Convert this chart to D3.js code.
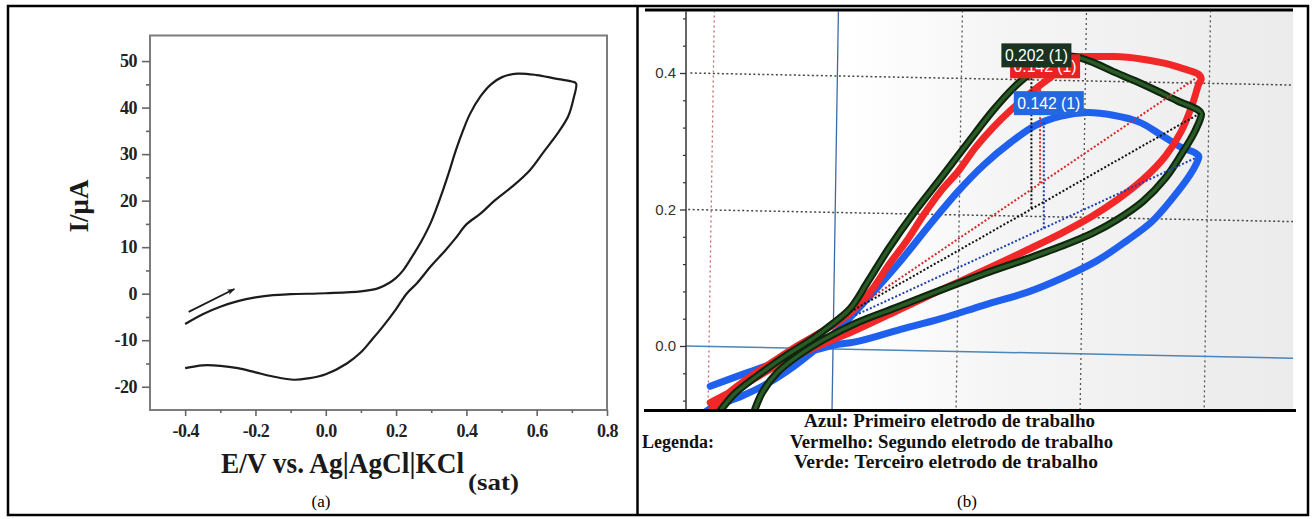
<!DOCTYPE html>
<html>
<head>
<meta charset="utf-8">
<script src="https://d3js.org/d3.v7.min.js"></script>
<style>
  body { margin: 0; background: #fff; }
  svg { display: block; }
</style>
</head>
<body>
<script>
// ---------- panel (a): single voltammogram ----------
var cvE = [-0.40, -0.35, -0.30, -0.25, -0.20, -0.15, -0.10, 0.00, 0.10, 0.15, 0.18, 0.20, 0.22, 0.25, 0.27, 0.30, 0.33, 0.35, 0.37, 0.39, 0.41, 0.44, 0.47, 0.50, 0.545, 0.60, 0.65, 0.70, 0.712,
           0.705, 0.69, 0.66, 0.62, 0.58, 0.53, 0.48, 0.44, 0.40, 0.37, 0.34, 0.30, 0.26, 0.23, 0.20, 0.16, 0.13, 0.10, 0.06, 0.00, -0.05, -0.09, -0.15, -0.20, -0.25, -0.30, -0.35, -0.40];
var cvI = [-6.5, -4.4, -2.8, -1.6, -0.8, -0.3, -0.1, 0.1, 0.5, 1.2, 2.3, 3.4, 5.0, 8.5, 11.0, 15.5, 21.5, 26.0, 30.8, 35.0, 38.6, 42.4, 45.0, 46.5, 47.3, 47.0, 46.3, 45.6, 45.2,
           42.0, 38.2, 34.5, 30.5, 26.5, 23.0, 20.0, 17.2, 14.9, 12.0, 9.3, 6.0, 2.3, 0.0, -3.3, -7.3, -10.0, -12.6, -15.0, -17.3, -18.2, -18.5, -17.8, -16.9, -16.0, -15.5, -15.4, -16.0];
var arrowE = [-0.39, -0.26];
var arrowI = [-3.9, 1.0];
var xTicksA = [-0.4, -0.2, 0.0, 0.2, 0.4, 0.6, 0.8];
var xMinorA = [-0.3, -0.1, 0.1, 0.3, 0.5, 0.7];
var yTicksA = [-20, -10, 0, 10, 20, 30, 40, 50];
var yMinorA = [-15, -5, 5, 15, 25, 35, 45];

// ---------- panel (b): three working electrodes ----------
var blueE = [-0.099, -0.069, -0.034, 0.000, 0.018, 0.052, 0.087, 0.122, 0.157, 0.184, 0.212, 0.236, 0.257, 0.274, 0.288, 0.294, 0.295,
             0.292, 0.281, 0.264, 0.247, 0.226, 0.205, 0.184, 0.163, 0.143, 0.122, 0.101, 0.080, 0.056, 0.035, 0.018, 0.004, -0.010, -0.031, -0.052, -0.073, -0.097, -0.104];
var blueI = [-0.059, -0.039, -0.017, 0.001, 0.006, 0.023, 0.040, 0.060, 0.079, 0.099, 0.124, 0.153, 0.182, 0.217, 0.251, 0.271, 0.278,
             0.283, 0.291, 0.310, 0.328, 0.338, 0.342, 0.337, 0.323, 0.298, 0.266, 0.227, 0.182, 0.128, 0.084, 0.050, 0.023, 0.001, -0.029, -0.054, -0.073, -0.090, -0.098];
var redE = [-0.099, -0.069, -0.041, -0.017, 0.018, 0.052, 0.087, 0.122, 0.157, 0.184, 0.209, 0.229, 0.250, 0.268, 0.281, 0.290, 0.295, 0.297,
            0.295, 0.283, 0.268, 0.247, 0.226, 0.205, 0.195, 0.186, 0.177, 0.167, 0.157, 0.143, 0.129, 0.115, 0.101, 0.087, 0.073, 0.059, 0.045, 0.032, 0.018, 0.004, -0.010, -0.028, -0.045, -0.066, -0.087, -0.100];
var redI = [-0.083, -0.054, -0.024, -0.004, 0.023, 0.052, 0.082, 0.111, 0.141, 0.165, 0.190, 0.214, 0.244, 0.278, 0.315, 0.355, 0.384, 0.391,
            0.398, 0.406, 0.414, 0.421, 0.424, 0.424, 0.423, 0.411, 0.396, 0.382, 0.367, 0.345, 0.320, 0.291, 0.256, 0.227, 0.192, 0.153, 0.119, 0.084, 0.055, 0.035, 0.020, 0.001, -0.019, -0.044, -0.073, -0.098];
var greenE = [-0.065, -0.057, -0.045, -0.028, -0.007, 0.018, 0.052, 0.087, 0.122, 0.157, 0.184, 0.209, 0.229, 0.250, 0.268, 0.281, 0.292, 0.297,
              0.295, 0.278, 0.261, 0.243, 0.226, 0.209, 0.195, 0.184, 0.170, 0.158, 0.146, 0.129, 0.108, 0.087, 0.066, 0.045, 0.028, 0.014, 0.000, -0.017, -0.038, -0.059, -0.080, -0.093];
var greenI = [-0.103, -0.068, -0.039, -0.014, 0.010, 0.033, 0.057, 0.082, 0.106, 0.128, 0.146, 0.165, 0.185, 0.212, 0.246, 0.281, 0.315, 0.340,
              0.345, 0.359, 0.374, 0.389, 0.402, 0.416, 0.424, 0.423, 0.414, 0.398, 0.379, 0.345, 0.296, 0.246, 0.197, 0.143, 0.094, 0.055, 0.033, 0.010, -0.014, -0.041, -0.071, -0.100];

// peak markers (blue, red, green) and their baselines
var peakE = [0.170, 0.167, 0.160];
var peakI = [0.328, 0.382, 0.398];
var peakText = ["0.142 (1)", "0.142 (1)", "0.202 (1)"];
var baseE0 = [0.018, 0.018, 0.014], baseI0 = [0.045, 0.055, 0.050];
var baseE1 = [0.293, 0.294, 0.296], baseI1 = [0.276, 0.394, 0.341];

var yTicksB = [0.0, 0.2, 0.4];
var yMinorB = [-0.08, -0.04, 0.04, 0.08, 0.12, 0.16, 0.24, 0.28, 0.32, 0.36, 0.44, 0.48];
var xGridB = [-0.1, 0.1, 0.2, 0.3];
var yGridB = [0.2, 0.4];
var legendLines = ["Azul: Primeiro eletrodo de trabalho", "Vermelho: Segundo eletrodo de trabalho", "Verde: Terceiro eletrodo de trabalho"];

var serif = "'Liberation Serif', 'Times New Roman', serif";
var sans = "'Liberation Sans', Arial, sans-serif";

var svg = d3.select("body").append("svg")
  .attr("width", 1315)
  .attr("height", 519);

// table frame
svg.append("rect")
  .attr("x", 8).attr("y", 6).attr("width", 1300).attr("height", 509)
  .attr("fill", "none").attr("stroke", "#000").attr("stroke-width", 2.5);
svg.append("line")
  .attr("x1", 637.5).attr("x2", 637.5).attr("y1", 6).attr("y2", 515)
  .attr("stroke", "#000").attr("stroke-width", 2.5);

// ================= panel (a) =================
var xA = d3.scaleLinear().domain([-0.5, 0.8]).range([150, 607]);
var yA = d3.scaleLinear().domain([-25, 55.5]).range([410, 35.5]);

var gA = svg.append("g");
gA.append("rect")
  .attr("x", 150).attr("y", 35.5).attr("width", 457).attr("height", 374.5)
  .attr("fill", "#fff").attr("stroke", "#7c7c7c").attr("stroke-width", 2);

function styleAxisA(g) {
  g.select(".domain").remove();
  g.selectAll(".tick line").attr("stroke", "#666").attr("stroke-width", 1.6);
  g.selectAll("text")
    .attr("font-family", serif).attr("font-size", 18).attr("font-weight", "bold")
    .attr("fill", "#222").attr("letter-spacing", -0.5);
}

gA.append("g").attr("transform", "translate(150,0)")
  .call(d3.axisLeft(yA).tickValues(yTicksA).tickSize(8).tickPadding(5).tickFormat(function (d) { return d; }))
  .call(styleAxisA);
gA.append("g").attr("transform", "translate(150,0)")
  .call(d3.axisLeft(yA).tickValues(yMinorA).tickSize(4).tickFormat(""))
  .call(styleAxisA);
gA.append("g").attr("transform", "translate(0,410)")
  .call(d3.axisBottom(xA).tickValues(xTicksA).tickSize(6).tickPadding(8).tickFormat(function (d) { return d.toFixed(1); }))
  .call(styleAxisA);
gA.append("g").attr("transform", "translate(0,410)")
  .call(d3.axisBottom(xA).tickValues(xMinorA).tickSize(3).tickFormat(""))
  .call(styleAxisA);

var lineA = d3.line()
  .x(function (d) { return xA(d[0]); })
  .y(function (d) { return yA(d[1]); })
  .curve(d3.curveCatmullRom.alpha(0.5));

gA.append("path")
  .datum(d3.zip(cvE, cvI))
  .attr("d", lineA)
  .attr("fill", "none").attr("stroke", "#1c1c1c").attr("stroke-width", 2.2)
  .attr("stroke-linejoin", "round");

// scan direction arrow
svg.append("defs").append("marker")
  .attr("id", "arrowA").attr("viewBox", "0 0 10 10").attr("refX", 9).attr("refY", 5)
  .attr("markerUnits", "userSpaceOnUse").attr("markerWidth", 12).attr("markerHeight", 8)
  .attr("orient", "auto")
  .append("path").attr("d", "M0,1.5 L10,5 L0,8.5 L2.5,5 z").attr("fill", "#1c1c1c");
gA.append("line")
  .attr("x1", xA(arrowE[0])).attr("y1", yA(arrowI[0]))
  .attr("x2", xA(arrowE[1])).attr("y2", yA(arrowI[1]))
  .attr("stroke", "#1c1c1c").attr("stroke-width", 1.8)
  .attr("marker-end", "url(#arrowA)");

// titles
gA.append("text")
  .attr("x", 221).attr("y", 473)
  .attr("font-family", serif).attr("font-size", 30).attr("font-weight", "bold").attr("fill", "#1a1a1a")
  .attr("textLength", 243).attr("lengthAdjust", "spacingAndGlyphs")
  .text("E/V vs. Ag|AgCl|KCl");
gA.append("text")
  .attr("x", 468).attr("y", 490)
  .attr("font-family", serif).attr("font-size", 24).attr("font-weight", "bold").attr("fill", "#1a1a1a")
  .attr("textLength", 51).attr("lengthAdjust", "spacingAndGlyphs")
  .text("(sat)");
gA.append("text")
  .attr("transform", "translate(88,206) rotate(-90)")
  .attr("text-anchor", "middle")
  .attr("font-family", serif).attr("font-size", 28).attr("font-weight", "bold").attr("fill", "#1a1a1a")
  .attr("textLength", 53).attr("lengthAdjust", "spacingAndGlyphs")
  .text("I/\u03bcA");
svg.append("text")
  .attr("x", 321).attr("y", 507).attr("text-anchor", "middle")
  .attr("font-family", serif).attr("font-size", 17)
  .text("(a)");

// ================= panel (b) =================
var xB = d3.scaleLinear().domain([0, 0.1]).range([833, 957]);
var yB = d3.scaleLinear().domain([0, 0.4]).range([346, 73]);
var photo = { x0: 644, x1: 1293, y0: 11.5, y1: 409.5 };

var defs = svg.select("defs");
var grad = defs.append("linearGradient").attr("id", "photoBg")
  .attr("x1", "0%").attr("x2", "100%").attr("y1", "0%").attr("y2", "0%");
[[0, "#ffffff"], [0.32, "#ffffff"], [0.55, "#f5f5f5"], [1, "#ebebeb"]].forEach(function (s) {
  grad.append("stop").attr("offset", s[0]).attr("stop-color", s[1]);
});
defs.append("clipPath").attr("id", "clipB")
  .append("rect").attr("x", photo.x0).attr("y", photo.y0)
  .attr("width", photo.x1 - photo.x0).attr("height", photo.y1 - photo.y0);

var gB = svg.append("g");
gB.append("rect")
  .attr("x", photo.x0).attr("y", photo.y0)
  .attr("width", photo.x1 - photo.x0).attr("height", photo.y1 - photo.y0)
  .attr("fill", "url(#photoBg)");

var clipG = gB.append("g").attr("clip-path", "url(#clipB)");

// the photographed grid is slightly tilted
var gridG = clipG.append("g")
  .attr("transform", "translate(686,346) matrix(1,0.02,-0.016,1,0,0) translate(-686,-346)");

gridG.selectAll(".hgrid").data(yGridB).enter().append("line")
  .attr("x1", 686).attr("x2", 1310)
  .attr("y1", function (d) { return yB(d); }).attr("y2", function (d) { return yB(d); })
  .attr("stroke", "#444").attr("stroke-width", 1.5).attr("stroke-dasharray", "2,2.5");
gridG.selectAll(".vgrid").data(xGridB).enter().append("line")
  .attr("x1", function (d) { return xB(d); }).attr("x2", function (d) { return xB(d); })
  .attr("y1", -10).attr("y2", 430)
  .attr("stroke", function (d) { return d < 0 ? "#c86a6a" : "#555"; })
  .attr("stroke-width", 1.3).attr("stroke-dasharray", "2,3");
gridG.append("line")
  .attr("x1", 686).attr("x2", 1310).attr("y1", yB(0)).attr("y2", yB(0))
  .attr("stroke", "#4a86b8").attr("stroke-width", 1.5);
gridG.append("line")
  .attr("x1", xB(0)).attr("x2", xB(0)).attr("y1", -10).attr("y2", 430)
  .attr("stroke", "#3c6aa6").attr("stroke-width", 1.3);

var lineB = d3.line()
  .x(function (d) { return xB(d[0]); })
  .y(function (d) { return yB(d[1]); })
  .curve(d3.curveCatmullRom.alpha(0.5));

var curveG = clipG.append("g").attr("fill", "none")
  .attr("stroke-linejoin", "round").attr("stroke-linecap", "round");
curveG.append("path").datum(d3.zip(blueE, blueI)).attr("d", lineB)
  .attr("stroke", "#1f60ee").attr("stroke-width", 7);
curveG.append("path").datum(d3.zip(redE, redI)).attr("d", lineB)
  .attr("stroke", "#f22828").attr("stroke-width", 7);
curveG.append("path").datum(d3.zip(greenE, greenI)).attr("d", lineB)
  .attr("stroke", "#0f260e").attr("stroke-width", 7.5);
curveG.append("path").datum(d3.zip(greenE, greenI)).attr("d", lineB)
  .attr("stroke", "#2a5a26").attr("stroke-width", 3.4);

// peak baselines and drop lines
var markColors = ["#1a3fb0", "#d42a2a", "#111111"];
var boxColors = ["#2468e0", "#e82222", "#1a3320"];
var markG = clipG.append("g").attr("stroke-width", 2).attr("stroke-dasharray", "2,2");
peakE.forEach(function (pe, i) {
  markG.append("line")
    .attr("x1", xB(baseE0[i])).attr("y1", yB(baseI0[i]))
    .attr("x2", xB(baseE1[i])).attr("y2", yB(baseI1[i]))
    .attr("stroke", markColors[i]);
  var t = (pe - baseE0[i]) / (baseE1[i] - baseE0[i]);
  var baseAtPeak = baseI0[i] + t * (baseI1[i] - baseI0[i]);
  markG.append("line")
    .attr("x1", xB(pe)).attr("x2", xB(pe))
    .attr("y1", yB(peakI[i])).attr("y2", yB(baseAtPeak))
    .attr("stroke", markColors[i]);
});

// peak value labels (blue, red, then green on top)
var labelG = clipG.append("g");
peakE.forEach(function (pe, i) {
  var cx = xB(pe) + 5, bottom = yB(peakI[i]) - 7;
  labelG.append("rect")
    .attr("x", cx - 35).attr("y", bottom - 24).attr("width", 70).attr("height", 24)
    .attr("fill", boxColors[i]);
  labelG.append("text")
    .attr("x", cx).attr("y", bottom - 6).attr("text-anchor", "middle")
    .attr("font-family", sans).attr("font-size", 17).attr("fill", "#fff")
    .attr("textLength", 63).attr("lengthAdjust", "spacingAndGlyphs")
    .text(peakText[i]);
});

// y axis of the photographed plot
var axB = gB.append("g").attr("transform", "translate(686,0)");
axB.append("line").attr("y1", photo.y0).attr("y2", photo.y1)
  .attr("stroke", "#333").attr("stroke-width", 1.5);
axB.append("g")
  .call(d3.axisLeft(yB).tickValues(yTicksB).tickSize(6).tickPadding(4).tickFormat(function (d) { return d.toFixed(1); }))
  .call(function (g) {
    g.select(".domain").remove();
    g.selectAll(".tick line").attr("stroke", "#333").attr("stroke-width", 1.3);
    g.selectAll("text").attr("font-family", sans).attr("font-size", 15).attr("fill", "#333");
  });
axB.append("g")
  .call(d3.axisLeft(yB).tickValues(yMinorB).tickSize(3).tickFormat(""))
  .call(function (g) {
    g.select(".domain").remove();
    g.selectAll(".tick line").attr("stroke", "#333").attr("stroke-width", 1.2);
  });

// black edges of the photo
gB.append("line").attr("x1", 645).attr("x2", 1293).attr("y1", 10).attr("y2", 10)
  .attr("stroke", "#000").attr("stroke-width", 3);
gB.append("line").attr("x1", 644).attr("x2", 1296).attr("y1", 410.5).attr("y2", 410.5)
  .attr("stroke", "#000").attr("stroke-width", 3);

// legend text under the photo
var legendX = [804, 790, 794];
var legendW = [291, 323, 304];
legendLines.forEach(function (s, i) {
  svg.append("text")
    .attr("x", legendX[i]).attr("y", 427 + i * 20.5)
    .attr("font-family", serif).attr("font-size", 18).attr("font-weight", "bold").attr("fill", "#111")
    .attr("textLength", legendW[i]).attr("lengthAdjust", "spacingAndGlyphs")
    .text(s);
});
svg.append("text")
  .attr("x", 642).attr("y", 447.5)
  .attr("font-family", serif).attr("font-size", 18).attr("font-weight", "bold").attr("fill", "#111")
  .attr("textLength", 72).attr("lengthAdjust", "spacingAndGlyphs")
  .text("Legenda:");
svg.append("text")
  .attr("x", 967).attr("y", 507).attr("text-anchor", "middle")
  .attr("font-family", serif).attr("font-size", 17)
  .text("(b)");
</script>
</body>
</html>
